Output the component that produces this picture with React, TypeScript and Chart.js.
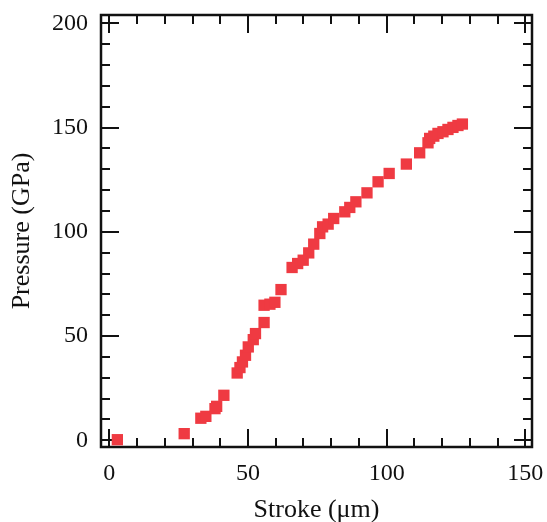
import React, { useEffect, useRef } from "react";
import { Chart, registerables } from "chart.js";

Chart.register(...registerables);

const STROKE = [
  2.9, 27.0, 33.0, 34.8, 38.1, 38.7, 41.3, 46.1, 47.1, 48.0, 49.1, 50.1, 51.9, 52.7,
  55.8, 55.8, 57.9, 59.7, 61.9, 65.9, 67.9, 69.9, 71.9, 73.7, 75.9, 76.9, 78.9, 80.9,
  84.9, 86.7, 88.9, 92.9, 96.9, 100.9, 107.1, 111.9, 114.9, 115.5, 117.0, 118.5,
  120.3, 122.1, 123.9, 125.7, 127.3,
];
const PRESSURE = [
  0.3, 3.2, 10.6, 11.5, 15.2, 16.3, 21.6, 32.3, 34.9, 37.6, 40.8, 44.8, 48.3, 51.2,
  56.5, 64.8, 65.3, 66.2, 72.3, 82.9, 84.8, 86.4, 89.9, 94.1, 99.2, 102.4, 103.7, 106.4,
  109.6, 111.7, 114.4, 118.7, 124.0, 128.0, 132.5, 137.9, 142.7, 144.8, 145.9, 147.2,
  148.0, 149.1, 150.1, 151.0, 151.7,
];
const X_TICKS = [0, 50, 100, 150];
const Y_TICKS = [0, 50, 100, 150, 200];
const X_TITLE = "Stroke (\u03bcm)";
const Y_TITLE = "Pressure (GPa)";

const FONT = "'Liberation Serif', 'Times New Roman', serif";
const INK = "#111";

const framePlugin = {
  id: "frameTicks",
  beforeDatasetsDraw(chart: any) {
    const { ctx, chartArea } = chart;
    const { left, right, top, bottom } = chartArea;
    const xs = chart.scales.x;
    const ys = chart.scales.y;
    ctx.save();
    ctx.strokeStyle = INK;
    ctx.lineWidth = 2;
    ctx.lineCap = "butt";
    const MAJ = 18;
    const MIN = 9;
    for (let v = Math.ceil(xs.min / 10) * 10; v <= xs.max; v += 10) {
      const p = Math.round(xs.getPixelForValue(v));
      const len = v % 50 === 0 ? MAJ : MIN;
      ctx.beginPath();
      ctx.moveTo(p, bottom);
      ctx.lineTo(p, bottom - len);
      ctx.moveTo(p, top);
      ctx.lineTo(p, top + len);
      ctx.stroke();
    }
    for (let v = Math.ceil(ys.min / 10) * 10; v <= ys.max; v += 10) {
      const p = Math.round(ys.getPixelForValue(v));
      const len = v % 50 === 0 ? MAJ : MIN;
      ctx.beginPath();
      ctx.moveTo(left, p);
      ctx.lineTo(left + len, p);
      ctx.moveTo(right, p);
      ctx.lineTo(right - len, p);
      ctx.stroke();
    }
    ctx.lineWidth = 2.5;
    ctx.strokeRect(left, top, right - left, bottom - top);
    ctx.restore();
  },
};

export default function App() {
  const ref = useRef<HTMLCanvasElement | null>(null);
  useEffect(() => {
    document.body.style.margin = "0";
    const canvas = ref.current!;
    const chart = new Chart(canvas, {
      type: "scatter",
      data: {
        datasets: [
          {
            data: STROKE.map((x, i) => ({ x, y: PRESSURE[i] })),
            backgroundColor: "#ef3a42",
            borderWidth: 0,
            pointStyle: "rect",
            pointRadius: 8,
            pointHoverRadius: 8,
          },
        ],
      },
      options: {
        responsive: false,
        animation: false,
        events: [],
        layout: { padding: { top: 15, right: 15, left: 0, bottom: 0 } },
        plugins: { legend: { display: false }, tooltip: { enabled: false } },
        scales: {
          x: {
            type: "linear",
            min: -3,
            max: 152.4,
            afterBuildTicks: (s: any) => {
              s.ticks = X_TICKS.map((v) => ({ value: v }));
            },
            afterFit: (s: any) => {
              s.height = 75;
              s.paddingLeft = 0;
              s.paddingRight = 0;
            },
            grid: { display: false, drawTicks: false },
            border: { display: false },
            ticks: {
              padding: 12,
              color: INK,
              font: { family: FONT, size: 24 },
              maxRotation: 0,
              autoSkip: false,
            },
            title: {
              display: true,
              text: X_TITLE,
              color: INK,
              font: { family: FONT, size: 26, lineHeight: 1 },
              padding: { top: 0, bottom: -1 },
            },
          },
          y: {
            type: "linear",
            min: -3.2,
            max: 204,
            afterBuildTicks: (s: any) => {
              s.ticks = Y_TICKS.map((v) => ({ value: v }));
            },
            afterFit: (s: any) => {
              s.width = 101;
              s.paddingTop = 0;
              s.paddingBottom = 0;
            },
            grid: { display: false, drawTicks: false },
            border: { display: false },
            ticks: {
              padding: 13,
              color: INK,
              font: { family: FONT, size: 24 },
              autoSkip: false,
            },
            title: {
              display: true,
              text: Y_TITLE,
              color: INK,
              font: { family: FONT, size: 26, lineHeight: 1 },
              padding: { top: 9, bottom: 0 },
            },
          },
        },
      },
      plugins: [framePlugin],
    });
    return () => chart.destroy();
  }, []);
  return (
    <div style={{ position: "absolute", left: 0, top: 0, width: 547, height: 522, background: "#fff" }}>
      <canvas ref={ref} width={547} height={522} style={{ display: "block" }} />
    </div>
  );
}
